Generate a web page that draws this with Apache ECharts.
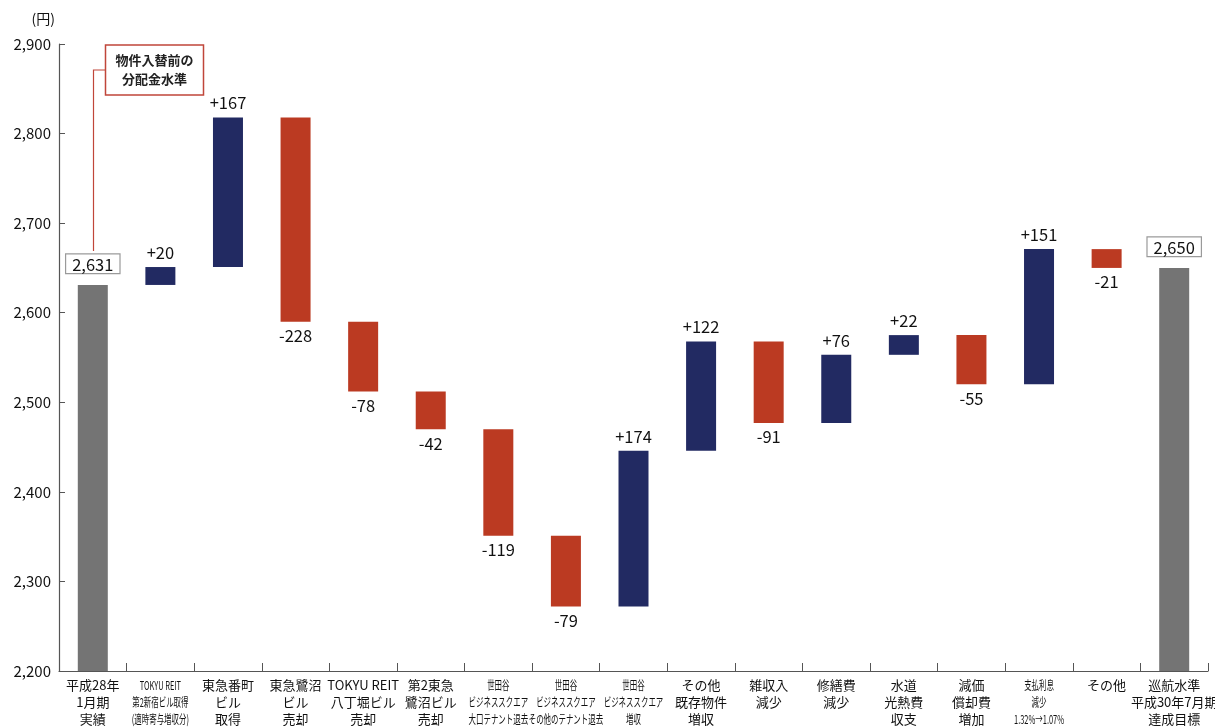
<!DOCTYPE html>
<html>
<head>
<meta charset="utf-8">
<script src="https://cdn.jsdelivr.net/npm/echarts@6/dist/echarts.min.js"></script>
<style>
  html, body { margin: 0; padding: 0; background: #fff; }
  #chart { width: 1215px; height: 728px; }
</style>
</head>
<body>
<div id="chart"></div>
<script>
// Distribution per unit bridge (円)
const categories = [
  '平成28年\n1月期\n実績',
  'TOKYU REIT\n第2新宿ビル取得\n(適時寄与増収分)',
  '東急番町\nビル\n取得',
  '東急鷺沼\nビル\n売却',
  'TOKYU REIT\n八丁堀ビル\n売却',
  '第2東急\n鷺沼ビル\n売却',
  '世田谷\nビジネススクエア\n大口テナント退去',
  '世田谷\nビジネススクエア\nその他のテナント退去',
  '世田谷\nビジネススクエア\n増収',
  'その他\n既存物件\n増収',
  '雑収入\n減少',
  '修繕費\n減少',
  '水道\n光熱費\n収支',
  '減価\n償却費\n増加',
  '支払利息\n減少\n1.32%→1.07%',
  'その他',
  '巡航水準\n平成30年7月期\n達成目標'
];
// categories whose labels are set in a condensed face
const condensedIdx = [1, 6, 7, 8, 14];
const startValue = 2631;
const deltas = [20, 167, -228, -78, -42, -119, -79, 174, 122, -91, 76, 22, -55, 151, -21];
const endValue = 2650;
const yTicks = { min: 2200, max: 2900, interval: 100 };
const noteText = '物件入替前の\n分配金水準';

const NAVY = '#222a62';
const RED = '#bb3a22';
const GRAY = '#747474';
const FONT = '"Noto Sans CJK JP", "Noto Sans", sans-serif';

// Build invisible base + visible step heights
const baseData = [0];
const stepData = [{ value: startValue, itemStyle: { color: GRAY } }];
let level = startValue;
deltas.forEach(d => {
  const next = level + d;
  baseData.push(Math.min(level, next));
  stepData.push({ value: Math.abs(d), delta: d, itemStyle: { color: d >= 0 ? NAVY : RED } });
  level = next;
});
baseData.push(0);
stepData.push({ value: endValue, itemStyle: { color: GRAY } });

const fmt = v => String(v).replace(/\B(?=(\d{3})+(?!\d))/g, ',');

stepData.forEach(item => {
  if (item.delta === undefined) {
    item.label = {
      show: true, position: 'top', distance: 12,
      formatter: fmt(item.value),
      borderColor: '#9a9a9a', borderWidth: 1.2,
      padding: [2, 6, 0, 6], backgroundColor: '#fff',
      fontSize: 16.5, color: '#111', fontFamily: FONT
    };
  } else {
    item.label = {
      show: true,
      position: item.delta >= 0 ? 'top' : 'bottom',
      distance: 6,
      formatter: (item.delta >= 0 ? '+' : '') + item.delta,
      fontSize: 16.5, color: '#111', fontFamily: FONT
    };
  }
});

const chart = echarts.init(document.getElementById('chart'), null, { renderer: 'canvas' });
chart.setOption({
  animation: false,
  grid: { left: 59, right: 7, top: 44, bottom: 57, containLabel: false },
  xAxis: {
    type: 'category',
    data: categories,
    axisLine: { lineStyle: { color: '#555', width: 1.2 } },
    axisTick: { show: true, inside: true, length: 8, interval: 0, lineStyle: { color: '#555' } },
    axisLabel: { show: false, interval: 0 }
  },
  yAxis: {
    type: 'value',
    min: yTicks.min, max: yTicks.max, interval: yTicks.interval,
    name: '(円)',
    nameLocation: 'end',
    nameGap: 18,
    nameTextStyle: { fontSize: 14, color: '#111', fontFamily: FONT, align: 'right', padding: [0, 4, 0, 0] },
    splitLine: { show: false },
    axisLine: { show: true, lineStyle: { color: '#555', width: 1.2 } },
    axisTick: { show: true, inside: true, length: 6, lineStyle: { color: '#555' } },
    axisLabel: { fontSize: 15, color: '#111', fontFamily: FONT, margin: 8, formatter: v => fmt(v) }
  },
  series: [
    {
      type: 'bar', stack: 'wf', data: baseData,
      itemStyle: { color: 'transparent' }, barWidth: 30, silent: true
    },
    {
      type: 'bar', stack: 'wf', data: stepData, barWidth: 30
    }
  ]
});

// Category labels, placed under each category position
const axisY = chart.convertToPixel({ yAxisIndex: 0 }, yTicks.min);
const labelGraphics = categories.map((c, i) => {
  const cx = chart.convertToPixel({ xAxisIndex: 0 }, i);
  const condensed = condensedIdx.includes(i);
  return {
    type: 'text',
    x: cx, y: axisY + 6,
    scaleX: condensed ? 0.62 : 1,
    style: {
      text: c, align: 'center', verticalAlign: 'top',
      fontSize: condensed ? 12 : 13, lineHeight: 17,
      fill: '#111', fontFamily: FONT
    }
  };
});

// Callout pointing to the starting level
const p = chart.convertToPixel({ seriesIndex: 1 }, [0, startValue]);
const px = Math.round(p[0]) + 0.5;
const boxX = px + 12, boxY = 45, boxW = 98, boxH = 50;
chart.setOption({
  graphic: labelGraphics.concat([
    {
      type: 'polyline',
      shape: { points: [[boxX, boxY + boxH / 2], [px, boxY + boxH / 2], [px, p[1] - 34]] },
      style: { stroke: '#c0463a', lineWidth: 1.2, fill: null }
    },
    {
      type: 'rect',
      shape: { x: boxX, y: boxY, width: boxW, height: boxH },
      style: { fill: '#fff', stroke: '#c0463a', lineWidth: 1.5 }
    },
    {
      type: 'text',
      x: boxX + boxW / 2, y: boxY + boxH / 2,
      style: {
        text: noteText, align: 'center', verticalAlign: 'middle',
        fontSize: 13, lineHeight: 19, fontWeight: 'bold', fill: '#222', fontFamily: FONT
      }
    }
  ])
});
</script>
</body>
</html>
